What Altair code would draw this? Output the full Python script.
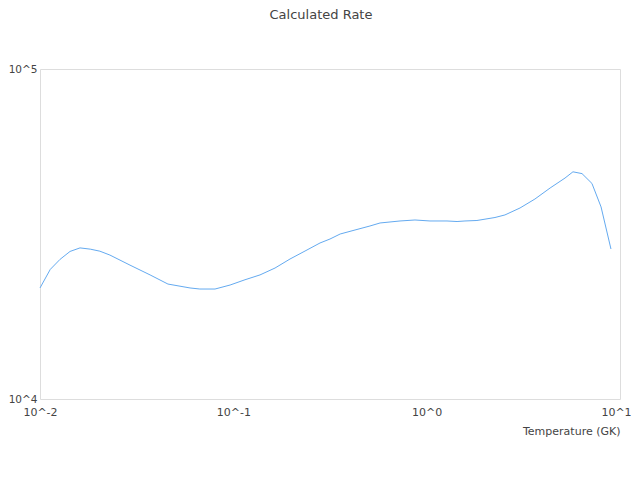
import altair as alt
import pandas as pd

temperature = [0.0100, 0.0113, 0.0127, 0.0143, 0.0161, 0.0182, 0.0204, 0.0230,
               0.0292, 0.0371, 0.0459, 0.0597, 0.0671, 0.0804, 0.0962, 0.1149,
               0.1374, 0.1643, 0.1964, 0.2349, 0.2807, 0.316, 0.357, 0.426,
               0.509, 0.574, 0.728, 0.870, 1.04, 1.274, 1.436, 1.578, 1.82,
               2.256, 2.54, 3.04, 3.63, 4.35, 5.196, 5.71, 6.36, 7.16, 7.98, 8.98]
rate = [21700, 24700, 26500, 28000, 28700, 28450, 28050, 27300,
        25450, 23770, 22300, 21700, 21540, 21540, 22150, 22980,
        23770, 24940, 26560, 28080, 29700, 30530, 31620, 32520,
        33440, 34150, 34630, 34870, 34630, 34630, 34500, 34630, 34750,
        35480, 36120, 37920, 40360, 43590, 46730, 48800, 48200, 45000, 38200, 28480]

x_ticks = [0.01, 0.1, 1, 10]
y_ticks = [10000, 100000]

df = pd.DataFrame({"T": temperature, "rate": rate})

font = "DejaVu Sans"
label_expr = "'10^' + round(log(datum.value) / LN10)"

chart = alt.Chart(df).mark_line(color="#64aaf0", strokeWidth=1).encode(
    x=alt.X("T:Q",
            scale=alt.Scale(type="log", domain=[0.01, 10], nice=False),
            axis=alt.Axis(values=x_ticks, labelExpr=label_expr, grid=False, domain=False,
                          ticks=False, labelFont=font, labelFontSize=11, labelColor="#444444",
                          labelPadding=7, labelFlush=False, labelOverlap=False,
                          labelOffset={"condition": {"test": "datum.value >= 10", "value": -4}, "value": 0},
                          title="Temperature (GK)", titleFont=font, titleFontSize=11,
                          titleFontWeight="normal", titleColor="#444444",
                          titleAnchor="end", titleAlign="right", titleX=580, titleY=35,
                          titleBaseline="alphabetic")),
    y=alt.Y("rate:Q",
            scale=alt.Scale(type="log", domain=[10000, 100000], nice=False),
            axis=alt.Axis(values=y_ticks, labelExpr=label_expr, grid=False, domain=False,
                          ticks=False, labelFont=font, labelFontSize=10.5, labelColor="#444444",
                          labelPadding=3, labelFlush=False, labelOverlap=False, title=None)),
).properties(
    width=580,
    height=330,
    title=alt.TitleParams("Calculated Rate", font=font, fontSize=13, fontWeight="normal",
                          color="#444444", anchor="middle", dx=-9, offset=32,
                          baseline="alphabetic"),
    autosize=alt.AutoSizeParams(type="none"),
    padding={"left": 32, "top": 61, "right": 12, "bottom": 50},
).configure_view(stroke="#cccccc", strokeWidth=1).configure(background="white")

chart.save("out.html", embed_options={"renderer": "svg", "actions": False})
